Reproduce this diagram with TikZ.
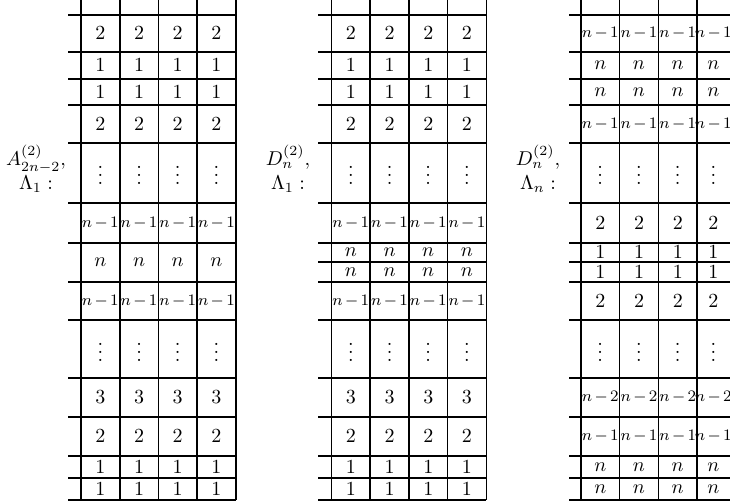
\documentclass[tikz,border=0pt]{standalone}
\usepackage{amssymb}
\usepackage{mathtools}
\usetikzlibrary{positioning}
\newcommand{\colw}{38.7}
\newcommand{\nmo}{\hbox{\footnotesize\medmuskip=2.5mu$n-1$}}
\newcommand{\nmt}{\hbox{\footnotesize\medmuskip=2.5mu$n-2$}}

\begin{document}
\begin{tikzpicture}[x=0.5pt,y=-0.5pt,
	gridline/.style={line width=0.8pt},
	cell/.style={inner sep=0pt},
	tag/.style={align=center,inner sep=0pt}]
	\useasboundingbox (0,0) rectangle (730,502);
	\clip (0,0) rectangle (730,502);
	
	% vertical lines of the three panels
	\foreach \x in {81,119.7,158.4,197.1,235.8, 331.5,370.2,408.9,447.6,486.3, 581,619.5,658.5,697,731}{%
		\draw[gridline] (\x,-10) -- (\x,500);}
	% horizontal lines
	\foreach \xs/\xe in {68/235.8,318/486.3,569/731}{%
		\foreach \y in {15,52,79,105,143,203,243,282,320,378,417,456,478,500}{%
			\draw[gridline] (\xs,\y) -- (\xe,\y);}}
	\foreach \xs/\xe in {318/486.3,569/731}{\draw[gridline] (\xs,262) -- (\xe,262);}
	
	% A_{2n-2}^{(2)}, Lambda_1
	\foreach \ym/\t [count=\r] in {33.5/2,65.5/1,92/1,124/2,169/\vdots,223/\nmo,262.5/n,301/\nmo,346/\vdots,397.5/3,436.5/2,467/1,489/1}{%
		\foreach \xm [count=\c] in {100.35,139.05,177.75,216.45}{\node[cell] (a\r-\c) at (\xm,\ym) {$\t$};}}
	% D_n^{(2)}, Lambda_1
	\foreach \ym/\t [count=\r] in {33.5/2,65.5/1,92/1,124/2,169/\vdots,223/\nmo,252.5/n,272/n,301/\nmo,346/\vdots,397.5/3,436.5/2,467/1,489/1}{%
		\foreach \xm [count=\c] in {350.85,389.55,428.25,466.95}{\node[cell] (d\r-\c) at (\xm,\ym) {$\t$};}}
	% D_n^{(2)}, Lambda_n
	\foreach \ym/\t [count=\r] in {33.5/\nmo,65.5/n,92/n,124/\nmo,169/\vdots,223/2,252.5/1,272/1,301/2,346/\vdots,397.5/\nmt,436.5/\nmo,467/n,489/n}{%
		\foreach \xm [count=\c] in {600.25,639,677.75,713.3}{\node[cell] (e\r-\c) at (\xm,\ym) {$\t$};}}
	
	\node[tag] (labA) at (36,169) {$A^{(2)}_{2n-2},$\\$\Lambda_1:$};
	\node[tag] (labD) at (288,169) {$D^{(2)}_n,$\\$\Lambda_1:$};
	\node[tag] (labE) at (538,169) {$D^{(2)}_n,$\\$\Lambda_n:$};
\end{tikzpicture}
\end{document}
